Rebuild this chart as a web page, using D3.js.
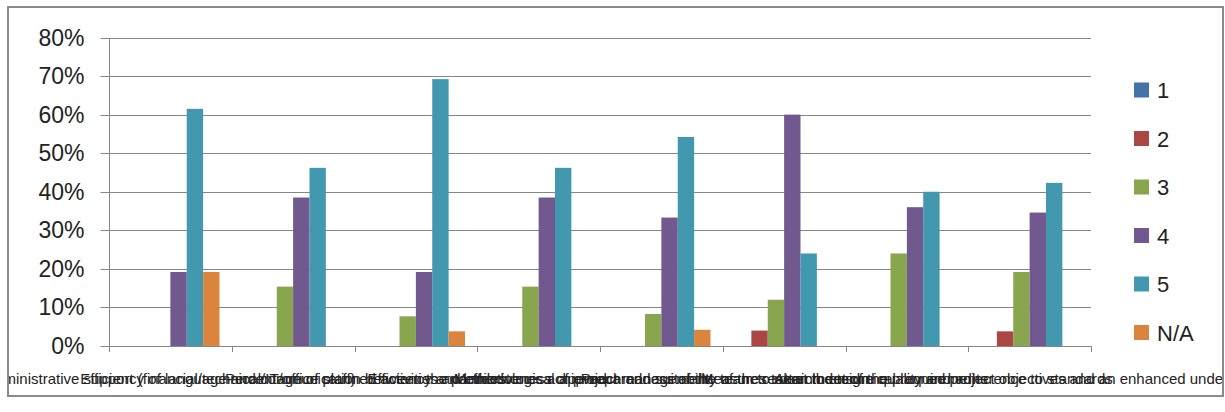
<!DOCTYPE html>
<html>
<head>
<meta charset="utf-8">
<script src="https://cdn.jsdelivr.net/npm/d3@7"></script>
<style>
  html, body { margin: 0; padding: 0; background: #fff; }
  svg { display: block; }
</style>
</head>
<body>
<svg id="chart" width="1225" height="412"></svg>
<script>
// Survey items (category axis)
const categories = [
  "Administrative support (financial/technical/IT/office staff)",
  "Efficiency of language and communication between the partners",
  "Percentage of planned activities and milestones achieved",
  "Efficiency and effectiveness of project management",
  "Methodological approach and suitability of the research design",
  "Preparedness of the team to meet the technical requirements",
  "Measures taken to ensure quality and adherence to standards",
  "Attainment of the planned project objectives and an enhanced understanding"
];

// Rating scale (series)
const seriesNames = ["1", "2", "3", "4", "5", "N/A"];
const seriesColors = ["#4572A7", "#AA4643", "#89A54E", "#71588F", "#4198AF", "#DB843D"];

// Share of responses per rating, in percent
const rating1  = [0, 0, 0, 0, 0, 0, 0, 0];
const rating2  = [0, 0, 0, 0, 0, 4.0, 0, 3.8];
const rating3  = [0, 15.4, 7.7, 15.4, 8.3, 12.0, 24.0, 19.2];
const rating4  = [19.2, 38.5, 19.2, 38.5, 33.3, 60.0, 36.0, 34.6];
const rating5  = [61.5, 46.2, 69.2, 46.2, 54.2, 24.0, 40.0, 42.3];
const ratingNA = [19.2, 0, 3.8, 0, 4.2, 0, 0, 0];

const yTicks = [0, 10, 20, 30, 40, 50, 60, 70, 80];

const seriesValues = [rating1, rating2, rating3, rating4, rating5, ratingNA];

const svg = d3.select("#chart");
const gridColor = "#868686";

// chart frame
svg.append("rect")
  .attr("x", 8).attr("y", 7)
  .attr("width", 1215).attr("height", 389)
  .attr("fill", "#fff")
  .attr("stroke", "#8a8a8a")
  .attr("stroke-width", 2);

svg.append("clipPath").attr("id", "frameClip")
  .append("rect").attr("x", 9).attr("y", 8).attr("width", 1213).attr("height", 387);

const plot = { left: 109, right: 1091, top: 37.5, bottom: 346 };

const x0 = d3.scaleBand().domain(categories).range([plot.left, plot.right]).paddingInner(0).paddingOuter(0);
const x1 = d3.scaleBand().domain(seriesNames).range([0, x0.bandwidth()]).paddingInner(0).paddingOuter(0.75);
const y = d3.scaleLinear().domain([0, 80]).range([plot.bottom, plot.top]);

// horizontal gridlines
svg.append("g").selectAll("line")
  .data(yTicks.filter(t => t > 0))
  .join("line")
  .attr("x1", plot.left).attr("x2", plot.right)
  .attr("y1", d => Math.round(y(d)) + 0.5).attr("y2", d => Math.round(y(d)) + 0.5)
  .attr("stroke", gridColor).attr("stroke-width", 1);

// value axis
const yAxis = d3.axisLeft(y).tickValues(yTicks).tickSize(9).tickPadding(16)
  .tickFormat(d => d + "%");
const yg = svg.append("g").attr("transform", `translate(${plot.left + 0.5},0.5)`).call(yAxis);
yg.select(".domain").attr("stroke", gridColor).attr("d", `M0,${plot.top}V${plot.bottom}`);
yg.selectAll(".tick line").attr("stroke", gridColor);
yg.selectAll(".tick text")
  .attr("font-family", "'Liberation Sans', Arial, sans-serif")
  .attr("font-size", 23).attr("fill", "#222");
yg.selectAll(".tick").attr("transform", d => `translate(0,${Math.round(y(d))})`);

// bars
const groups = svg.append("g").selectAll("g")
  .data(categories)
  .join("g")
  .attr("transform", d => `translate(${x0(d)},0)`);

groups.selectAll("rect")
  .data((c, i) => seriesNames.map((s, k) => ({ s, k, v: seriesValues[k][i] })))
  .join("rect")
  .attr("x", d => x1(d.s))
  .attr("width", x1.bandwidth())
  .attr("y", d => y(d.v))
  .attr("height", d => y(0) - y(d.v))
  .attr("fill", d => seriesColors[d.k]);

// category axis
const xAxis = d3.axisBottom(x0).tickSize(0).tickFormat("");
const xg = svg.append("g").attr("transform", `translate(0,${plot.bottom + 0.5})`).call(xAxis);
xg.select(".domain").attr("stroke", gridColor).attr("d", `M${plot.left},0H${plot.right}`);
xg.selectAll(".tick").remove();

// category boundary ticks
const bounds = categories.map(c => x0(c)).concat([plot.right]);
svg.append("g").selectAll("line")
  .data(bounds)
  .join("line")
  .attr("x1", d => Math.round(d) + 0.5).attr("x2", d => Math.round(d) + 0.5)
  .attr("y1", plot.bottom).attr("y2", plot.bottom + 6)
  .attr("stroke", gridColor);

// category labels (single line, centred under each group)
svg.append("g").attr("clip-path", "url(#frameClip)")
  .selectAll("text")
  .data(categories)
  .join("text")
  .attr("x", d => x0(d) + x0.bandwidth() / 2)
  .attr("y", 384)
  .attr("text-anchor", "middle")
  .attr("font-family", "'Liberation Sans', Arial, sans-serif")
  .attr("font-size", 15)
  .attr("fill", "#222")
  .text(d => d);

// legend
const legend = svg.append("g").selectAll("g")
  .data(seriesNames)
  .join("g")
  .attr("transform", (d, i) => `translate(1134,${90 + i * 48.5})`);
legend.append("rect")
  .attr("x", 0).attr("y", -7.5).attr("width", 15).attr("height", 15)
  .attr("fill", (d, i) => seriesColors[i]);
legend.append("text")
  .attr("x", 23).attr("y", 8)
  .attr("font-family", "'Liberation Sans', Arial, sans-serif")
  .attr("font-size", 22).attr("fill", "#222")
  .text(d => d);
</script>
</body>
</html>
